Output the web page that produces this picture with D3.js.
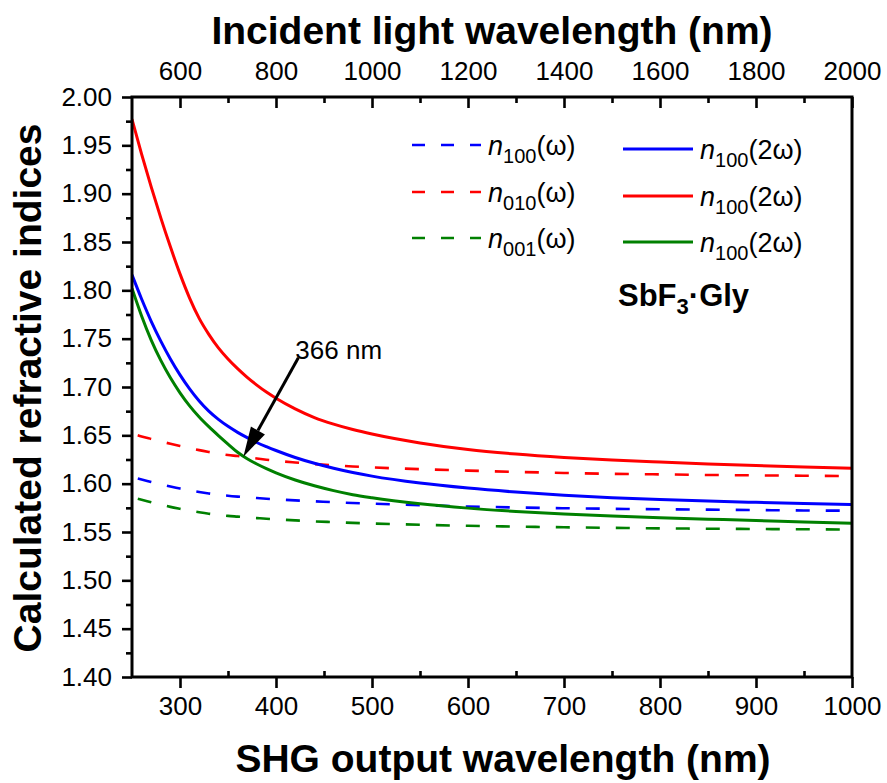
<!DOCTYPE html>
<html><head><meta charset="utf-8">
<script src="https://cdn.jsdelivr.net/npm/d3@7/dist/d3.min.js"></script>
<style>
body{margin:0;background:#fff}
svg{display:block}
text{font-family:"Liberation Sans",Arial,Helvetica,sans-serif;fill:#000}
</style>
</head><body>
<svg id="chart" width="887" height="783"></svg>
<script>
// ---- data (SHG output wavelength, nm) ----
const wavelengths = [250,260,270,280,290,300,310,320,330,340,350,360,370,380,390,400,420,440,460,480,500,550,600,650,700,750,800,850,900,950,1000];
// dashed: n(omega)
const n100_w = [1.607,1.6043,1.6017,1.5993,1.5971,1.595,1.5931,1.5914,1.5899,1.5886,1.5875,1.5866,1.5858,1.5851,1.5844,1.5838,1.5827,1.5818,1.5808,1.5800,1.5793,1.5778,1.5764,1.5754,1.5746,1.5740,1.5735,1.5731,1.5727,1.5723,1.5720];
const n010_w = [1.652,1.6488,1.6462,1.6437,1.6413,1.639,1.6368,1.6347,1.6328,1.631,1.6296,1.6286,1.6274,1.6260,1.6248,1.6237,1.6219,1.6203,1.6190,1.6178,1.6168,1.6150,1.6135,1.6122,1.6111,1.6102,1.6096,1.6090,1.6086,1.6082,1.6079];
const n001_w = [1.586,1.5833,1.5807,1.5783,1.576,1.574,1.5721,1.5704,1.5689,1.5677,1.5667,1.5659,1.5651,1.5644,1.5637,1.5631,1.5620,1.5610,1.5602,1.5594,1.5588,1.5575,1.5564,1.5556,1.5549,1.5543,1.5538,1.5534,1.5531,1.5528,1.5526];
// solid: n(2 omega)
const blue_2w  = [1.816,1.791,1.768,1.7475,1.729,1.7125,1.698,1.6855,1.675,1.6665,1.6593,1.6531,1.6476,1.6426,1.6383,1.6343,1.6271,1.6211,1.6160,1.6116,1.6078,1.6006,1.5954,1.5913,1.5880,1.5855,1.5836,1.5820,1.5807,1.5795,1.5784];
const red_2w   = [1.977,1.941,1.907,1.875,1.845,1.817,1.792,1.771,1.7545,1.7405,1.729,1.719,1.710,1.702,1.6948,1.6884,1.6774,1.6684,1.6616,1.6560,1.6513,1.6421,1.6353,1.6306,1.6271,1.6244,1.6223,1.6204,1.6188,1.6173,1.6159];
const green_2w = [1.802,1.7735,1.7485,1.7275,1.7095,1.694,1.6805,1.669,1.659,1.6498,1.641,1.6325,1.6258,1.6203,1.6155,1.6112,1.6038,1.5978,1.5928,1.5886,1.5854,1.5792,1.5747,1.5713,1.5686,1.5665,1.5647,1.5633,1.5619,1.5604,1.5590];

const bottomTicks = [300,400,500,600,700,800,900,1000];
const bottomMinor = [350,450,550,650,750,850,950];
const topTicks = [600,800,1000,1200,1400,1600,1800,2000];
const topMinor = [700,900,1100,1300,1500,1700,1900];
const yTicks = [1.40,1.45,1.50,1.55,1.60,1.65,1.70,1.75,1.80,1.85,1.90,1.95,2.00];
const yMinor = [1.425,1.475,1.525,1.575,1.625,1.675,1.725,1.775,1.825,1.875,1.925,1.975];

const legendLeft = [{sub:"100", txt:"(\u03c9)"},{sub:"010", txt:"(\u03c9)"},{sub:"001", txt:"(\u03c9)"}];
const legendRight = [{sub:"100", txt:"(2\u03c9)"},{sub:"100", txt:"(2\u03c9)"},{sub:"100", txt:"(2\u03c9)"}];
const annotationWl = 366;
const annotationText = "366 nm";

// ---- layout ----
const L=132, R=852, T=97, B=677;
const svg = d3.select("#chart");
const x = d3.scaleLinear().domain([250,1000]).range([L,R]);
const x2 = d3.scaleLinear().domain([500,2000]).range([L,R]);
const y = d3.scaleLinear().domain([1.40,2.00]).range([B,T]);

const BLUE="#0000ff", RED="#ff0000", GREEN="#008000";

svg.append("clipPath").attr("id","clip").append("rect")
  .attr("x",L).attr("y",T).attr("width",R-L).attr("height",B-T);

const line = d3.line().x((d,i)=>x(wavelengths[i])).y(d=>y(d)).curve(d3.curveMonotoneX);
const plot = svg.append("g").attr("clip-path","url(#clip)");
const dashed = [[n100_w,BLUE],[n010_w,RED],[n001_w,GREEN]];
const solid = [[blue_2w,BLUE],[red_2w,RED],[green_2w,GREEN]];
dashed.forEach(([d,c])=>{
  plot.append("path").attr("d",line(d)).attr("fill","none").attr("stroke",c)
    .attr("stroke-width",2.6).attr("stroke-dasharray","14,16").attr("stroke-dashoffset",-6);
});
solid.forEach(([d,c])=>{
  plot.append("path").attr("d",line(d)).attr("fill","none").attr("stroke",c).attr("stroke-width",3);
});

// ---- axes ----
function style(g){
  g.select(".domain").remove();
  g.selectAll(".tick line").attr("stroke","#000").attr("stroke-width",2.6);
  g.selectAll(".tick text").attr("font-size",26).attr("fill","#000");
}
svg.append("g").attr("transform",`translate(${L},0)`)
  .call(d3.axisLeft(y).tickValues(yTicks).tickSize(10).tickPadding(10).tickFormat(d3.format(".2f"))).call(style);
svg.append("g").attr("transform",`translate(${L},0)`)
  .call(d3.axisLeft(y).tickValues(yMinor).tickSize(6).tickFormat("")).call(style);
svg.append("g").attr("transform",`translate(0,${B})`)
  .call(d3.axisBottom(x).tickValues(bottomTicks).tickSize(11).tickPadding(9).tickFormat(d3.format("d"))).call(style);
svg.append("g").attr("transform",`translate(0,${B})`)
  .call(d3.axisTop(x).tickValues(bottomMinor).tickSize(6).tickFormat("")).call(style);
svg.append("g").attr("transform",`translate(0,${T})`)
  .call(d3.axisTop(x2).tickValues(topTicks).tickSizeInner(-11).tickSizeOuter(0).tickPadding(17).tickFormat(d3.format("d"))).call(style);
svg.append("g").attr("transform",`translate(0,${T})`)
  .call(d3.axisTop(x2).tickValues(topMinor).tickSizeInner(-6).tickSizeOuter(0).tickFormat("")).call(style);

svg.append("rect").attr("x",L).attr("y",T).attr("width",R-L).attr("height",B-T)
  .attr("fill","none").attr("stroke","#000").attr("stroke-width",3);

// ---- titles ----
svg.append("text").attr("x",503).attr("y",772).attr("text-anchor","middle")
  .attr("font-size",39).attr("font-weight","bold").text("SHG output wavelength (nm)");
svg.append("text").attr("x",492).attr("y",44).attr("text-anchor","middle")
  .attr("font-size",39).attr("font-weight","bold").text("Incident light wavelength (nm)");
svg.append("text").attr("transform","translate(41,388) rotate(-90)").attr("text-anchor","middle")
  .attr("font-size",39).attr("font-weight","bold").text("Calculated refractive indices");

// ---- legend ----
function legendText(xp, yp, item){
  const t = svg.append("text").attr("x",xp).attr("y",yp).attr("font-size",27);
  t.append("tspan").attr("font-style","italic").text("n");
  t.append("tspan").attr("font-size",20).attr("dy",8).text(item.sub);
  t.append("tspan").attr("dy",-8).text(item.txt);
}
const rowY = [145,192,238];
legendLeft.forEach((it,i)=>{
  svg.append("line").attr("x1",412).attr("x2",481).attr("y1",rowY[i]).attr("y2",rowY[i])
    .attr("stroke",dashed[i][1]).attr("stroke-width",2.6).attr("stroke-dasharray","13,16");
  legendText(488, rowY[i]+10, it);
});
legendRight.forEach((it,i)=>{
  svg.append("line").attr("x1",623).attr("x2",693).attr("y1",rowY[i]+4).attr("y2",rowY[i]+4)
    .attr("stroke",solid[i][1]).attr("stroke-width",3);
  legendText(700, rowY[i]+14, it);
});
const sb = svg.append("text").attr("x",618).attr("y",306).attr("font-size",31).attr("font-weight","bold");
sb.append("tspan").text("SbF");
sb.append("tspan").attr("font-size",22).attr("dy",8).text("3");
sb.append("tspan").attr("dy",-8).text("\u00b7Gly");

// ---- annotation ----
const idx = wavelengths.findIndex(w=>w>=annotationWl);
const tipX = x(annotationWl);
const w0 = wavelengths[idx-1], w1 = wavelengths[idx];
const v = n010_w[idx-1] + (n010_w[idx]-n010_w[idx-1])*(annotationWl-w0)/(w1-w0);
const tipY = y(v);
const tailX = tipX+55, tailY = tipY-99;
const ang = Math.atan2(tipY-tailY, tipX-tailX);
const hl = 30, hw = 8;
const bx = tipX - hl*Math.cos(ang), by = tipY - hl*Math.sin(ang);
svg.append("line").attr("x1",tailX).attr("y1",tailY).attr("x2",bx).attr("y2",by)
  .attr("stroke","#000").attr("stroke-width",3);
svg.append("path").attr("d",`M${tipX},${tipY}L${bx+hw*Math.sin(ang)},${by-hw*Math.cos(ang)}L${bx-hw*Math.sin(ang)},${by+hw*Math.cos(ang)}Z`)
  .attr("fill","#000");
svg.append("text").attr("x",tailX-3).attr("y",tailY+1).attr("font-size",26).text(annotationText);
</script>
</body></html>
